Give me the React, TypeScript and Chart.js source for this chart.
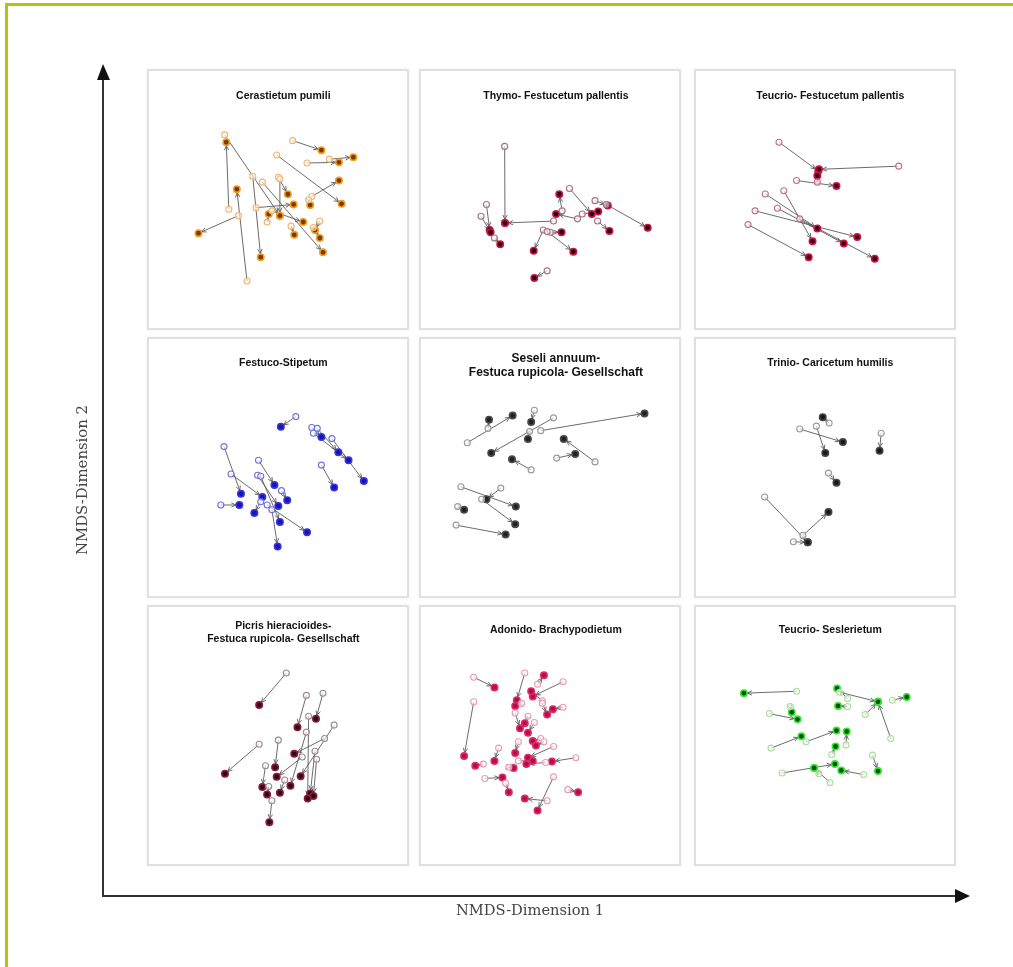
import React, { useEffect, useRef } from "react";
import { Chart, registerables } from "chart.js";

Chart.register(...registerables);

// Titles of the nine panels
const panelTitles: string[][] = [
  ["Cerastietum pumili"],
  ["Thymo- Festucetum pallentis"],
  ["Teucrio- Festucetum pallentis"],
  ["Festuco-Stipetum"],
  ["Seseli annuum-", "Festuca rupicola- Gesellschaft"],
  ["Trinio- Caricetum humilis"],
  ["Picris hieracioides-", "Festuca rupicola- Gesellschaft"],
  ["Adonido- Brachypodietum"],
  ["Teucrio- Seslerietum"],
];

// each row: [x open (first survey), y open, x filled (second survey), y filled]
// units: NMDS position (0..800, y counted downward)
const cerastietumPumili: number[][] = [
  [245, 425, 237, 215],
  [232, 192, 405, 445],
  [302, 650, 270, 362],
  [275, 445, 150, 500],
  [320, 322, 345, 575],
  [445, 210, 535, 240],
  [395, 255, 598, 408],
  [490, 280, 590, 278],
  [560, 268, 635, 262],
  [505, 385, 590, 335],
  [330, 420, 448, 410],
  [400, 325, 430, 378],
  [350, 340, 540, 560],
  [380, 430, 478, 465],
  [405, 330, 405, 445],
  [530, 462, 515, 490],
  [495, 395, 500, 412],
  [440, 478, 450, 505],
  [510, 482, 530, 515],
  [365, 465, 370, 440],
];

const thymoFestucetum: number[][] = [
  [257, 228, 258, 468],
  [410, 462, 258, 468],
  [200, 410, 210, 490],
  [183, 447, 213, 497],
  [225, 515, 243, 535],
  [437, 430, 428, 378],
  [460, 360, 530, 440],
  [485, 455, 418, 440],
  [540, 398, 580, 413],
  [575, 410, 705, 483],
  [548, 462, 585, 493],
  [378, 490, 348, 555],
  [400, 497, 435, 497],
  [390, 495, 472, 558],
  [390, 618, 350, 640],
  [500, 440, 550, 432],
];

const teucrioFestucetum: number[][] = [
  [255, 215, 378, 305],
  [630, 290, 380, 300],
  [310, 335, 435, 352],
  [375, 340, 375, 320],
  [158, 473, 348, 575],
  [180, 430, 500, 512],
  [212, 377, 375, 485],
  [270, 367, 360, 525],
  [250, 422, 458, 532],
  [320, 455, 555, 580],
];

const festucoStipetum: number[][] = [
  [455, 238, 408, 270],
  [505, 272, 535, 302],
  [522, 275, 588, 350],
  [510, 290, 620, 375],
  [568, 307, 668, 440],
  [535, 390, 575, 460],
  [230, 332, 283, 480],
  [338, 375, 388, 452],
  [252, 418, 350, 490],
  [335, 422, 400, 518],
  [345, 425, 405, 568],
  [220, 515, 278, 515],
  [345, 505, 325, 540],
  [365, 515, 490, 600],
  [380, 530, 398, 645],
  [410, 470, 428, 500],
];

const seseliAnnuum: number[][] = [
  [140, 320, 282, 235],
  [410, 242, 215, 352],
  [350, 218, 340, 255],
  [370, 282, 695, 228],
  [335, 285, 330, 308],
  [205, 275, 208, 248],
  [340, 405, 280, 372],
  [540, 380, 442, 308],
  [420, 368, 478, 355],
  [120, 458, 292, 520],
  [245, 462, 200, 497],
  [185, 497, 290, 575],
  [110, 520, 130, 530],
  [105, 578, 260, 607],
];

const trinioCaricetum: number[][] = [
  [412, 258, 392, 240],
  [320, 277, 455, 318],
  [372, 268, 400, 352],
  [575, 290, 570, 345],
  [410, 415, 435, 445],
  [210, 490, 345, 632],
  [330, 610, 410, 537],
  [300, 630, 345, 632],
];

const picrisHieracioides: number[][] = [
  [425, 205, 340, 305],
  [488, 275, 460, 375],
  [540, 268, 518, 348],
  [575, 368, 470, 528],
  [545, 410, 450, 458],
  [488, 390, 438, 558],
  [400, 415, 390, 500],
  [340, 428, 233, 520],
  [515, 450, 500, 582],
  [520, 475, 510, 590],
  [360, 495, 350, 562],
  [475, 468, 395, 530],
  [380, 605, 372, 672],
  [420, 540, 405, 580],
  [370, 560, 365, 585],
  [495, 340, 492, 598],
];

const adonidoBrachypodietum: number[][] = [
  [160, 218, 225, 250],
  [320, 205, 295, 290],
  [440, 232, 345, 278],
  [360, 240, 380, 212],
  [375, 292, 340, 262],
  [160, 295, 130, 465],
  [440, 312, 408, 318],
  [375, 300, 390, 335],
  [330, 340, 320, 362],
  [410, 435, 330, 470],
  [480, 470, 405, 482],
  [238, 440, 225, 480],
  [195, 535, 250, 532],
  [390, 605, 320, 598],
  [410, 530, 360, 635],
  [455, 570, 487, 578],
  [385, 485, 325, 490],
  [300, 420, 290, 455],
  [270, 500, 285, 502],
  [190, 490, 165, 495],
  [260, 550, 270, 578],
  [350, 360, 330, 392],
  [370, 410, 345, 418],
  [380, 420, 355, 432],
  [300, 480, 345, 480],
  [290, 330, 305, 378],
  [310, 300, 290, 308],
];

const teucrioSeslerietum: number[][] = [
  [310, 262, 145, 268],
  [445, 265, 565, 295],
  [470, 285, 437, 253],
  [470, 310, 440, 308],
  [610, 290, 655, 280],
  [525, 335, 565, 295],
  [605, 410, 565, 295],
  [225, 332, 313, 350],
  [290, 310, 295, 328],
  [230, 440, 325, 403],
  [340, 420, 435, 385],
  [465, 430, 467, 388],
  [265, 518, 430, 490],
  [415, 548, 365, 502],
  [520, 523, 450, 510],
  [548, 462, 565, 512],
  [420, 460, 432, 435],
  [380, 520, 365, 502],
];

const panelData: number[][][] = [
  cerastietumPumili,
  thymoFestucetum,
  teucrioFestucetum,
  festucoStipetum,
  seseliAnnuum,
  trinioCaricetum,
  picrisHieracioides,
  adonidoBrachypodietum,
  teucrioSeslerietum,
];

// styles (kept apart from data)
const panelColors = [
  { fill: "#7a3b00", ring: "#f59a20", open: "#f4b46a" },
  { fill: "#2a0008", ring: "#c8144a", open: "#a87080" },
  { fill: "#3a0010", ring: "#d0104a", open: "#c07080" },
  { fill: "#1a14a8", ring: "#3434e0", open: "#7070d8" },
  { fill: "#222222", ring: "#4a4a4a", open: "#9a9a9a" },
  { fill: "#1a1a1a", ring: "#444444", open: "#9a9a9a" },
  { fill: "#2a0a14", ring: "#8a1a3a", open: "#a08890" },
  { fill: "#b0104a", ring: "#e0286a", open: "#e89ab8" },
  { fill: "#0a500a", ring: "#30e830", open: "#a8e098" },
];

const titleSizes = [10.5, 10.5, 10.5, 10.5, 12, 10.5, 10.5, 10.5, 10.5];
const cropX = [145, 417, 692];
const cropY = [68, 335, 602];
const cropW = [265, 266, 265];
const cropH = [264, 265, 267];
const boxX = [147, 419, 694];
const boxY = [69, 337, 605];
const boxW = 262;
const boxH = 261;

const arrowPlugin = {
  id: "nmdsArrows",
  beforeDatasetsDraw(chart: any) {
    const pairs: number[][] = chart.config.options.plugins.nmdsArrows.pairs;
    const xs = chart.scales.x;
    const ys = chart.scales.y;
    const ctx = chart.ctx;
    ctx.save();
    ctx.strokeStyle = "#5a5a5a";
    ctx.fillStyle = "#5a5a5a";
    ctx.lineWidth = 0.9;
    for (const p of pairs) {
      const x0 = xs.getPixelForValue(p[0]);
      const y0 = ys.getPixelForValue(p[1]);
      const x1 = xs.getPixelForValue(p[2]);
      const y1 = ys.getPixelForValue(p[3]);
      const dx = x1 - x0;
      const dy = y1 - y0;
      const len = Math.hypot(dx, dy);
      if (len < 1) continue;
      const ux = dx / len;
      const uy = dy / len;
      const ex = x1 - ux * 3.5;
      const ey = y1 - uy * 3.5;
      ctx.beginPath();
      ctx.moveTo(x0, y0);
      ctx.lineTo(ex, ey);
      ctx.stroke();
      const ah = 5;
      const a = Math.atan2(uy, ux);
      ctx.beginPath();
      ctx.moveTo(ex, ey);
      ctx.lineTo(ex - ah * Math.cos(a - 0.45), ey - ah * Math.sin(a - 0.45));
      ctx.moveTo(ex, ey);
      ctx.lineTo(ex - ah * Math.cos(a + 0.45), ey - ah * Math.sin(a + 0.45));
      ctx.stroke();
    }
    ctx.restore();
  },
};

const titlePlugin = {
  id: "panelTitle",
  afterDraw(chart: any) {
    const o = chart.config.options.plugins.panelTitle;
    const ctx = chart.ctx;
    ctx.save();
    ctx.fillStyle = "#111";
    ctx.textAlign = "center";
    ctx.textBaseline = "middle";
    ctx.font = `bold ${o.size}px "Liberation Sans Narrow", "Liberation Sans", Arial, sans-serif`;
    const lines: string[] = o.lines;
    const y0 = lines.length > 1 ? 24 : 28;
    lines.forEach((t, i) => ctx.fillText(t, chart.width * 0.522, y0 + i * 13.5));
    ctx.restore();
  },
};

function Panel({ idx }: { idx: number }) {
  const ref = useRef<HTMLCanvasElement>(null);
  const col = idx % 3;
  const row = Math.floor(idx / 3);
  const w = cropW[col];
  const h = cropH[row];
  useEffect(() => {
    const pairs = panelData[idx];
    const c = panelColors[idx];
    const chart = new Chart(ref.current as HTMLCanvasElement, {
      type: "scatter",
      data: {
        datasets: [
          {
            label: "Aufnahme alt",
            data: pairs.map((p) => ({ x: p[0], y: p[1] })),
            pointRadius: 3,
            pointBackgroundColor: "rgba(255,255,255,0.6)",
            pointBorderColor: c.open,
            pointBorderWidth: 1.1,
          },
          {
            label: "Aufnahme neu",
            data: pairs.map((p) => ({ x: p[2], y: p[3] })),
            pointRadius: 3.2,
            pointBackgroundColor: c.fill,
            pointBorderColor: c.ring,
            pointBorderWidth: 1.6,
          },
        ],
      },
      options: {
        animation: false,
        responsive: false,
        maintainAspectRatio: false,
        layout: { padding: 0 },
        scales: {
          x: { type: "linear", min: 0, max: w * 3, display: false },
          y: { type: "linear", min: 0, max: h * 3, reverse: true, display: false },
        },
        plugins: {
          legend: { display: false },
          tooltip: { enabled: false },
          title: { display: false },
          nmdsArrows: { pairs },
          panelTitle: { lines: panelTitles[idx], size: titleSizes[idx] },
        } as any,
      },
      plugins: [arrowPlugin, titlePlugin],
    });
    return () => chart.destroy();
  }, [idx]);
  return (
    <canvas
      ref={ref}
      width={w}
      height={h}
      style={{ position: "absolute", left: cropX[col], top: cropY[row], width: w, height: h }}
    />
  );
}

export default function App() {
  const idxs = [0, 1, 2, 3, 4, 5, 6, 7, 8];
  return (
    <div style={{ position: "fixed", left: 0, top: 0, width: 1013, height: 967, background: "#fff", overflow: "hidden" }}>
      {idxs.map((i) => (
        <div
          key={"b" + i}
          style={{
            position: "absolute",
            left: boxX[i % 3],
            top: boxY[Math.floor(i / 3)],
            width: boxW,
            height: boxH,
            border: "2px solid #e0e0e0",
            boxSizing: "border-box",
            boxShadow: "0 0 3px rgba(0,0,0,0.06)",
          }}
        />
      ))}
      {idxs.map((i) => (
        <Panel key={i} idx={i} />
      ))}
      <svg width={1013} height={967} style={{ position: "absolute", left: 0, top: 0, pointerEvents: "none" }}>
        <rect x={5} y={3} width={3} height={964} fill="#b5c412" />
        <rect x={5} y={3} width={1008} height={3} fill="#b5c412" />
        <line x1={103} y1={897} x2={103} y2={78} stroke="#333" strokeWidth={2} />
        <polygon points="103,64 97,80 110,80" fill="#111" />
        <line x1={102} y1={896} x2={957} y2={896} stroke="#333" strokeWidth={2} />
        <polygon points="970,896 955,889 955,903" fill="#111" />
        <text
          x={530}
          y={915}
          textAnchor="middle"
          fontFamily="'DejaVu Serif', serif"
          fontSize={14.5}
          fill="#444"
          textLength={148}
          lengthAdjust="spacingAndGlyphs"
        >
          NMDS-Dimension 1
        </text>
        <text
          x={0}
          y={0}
          transform="translate(87,480) rotate(-90)"
          textAnchor="middle"
          fontFamily="'DejaVu Serif', serif"
          fontSize={14.5}
          fill="#444"
          textLength={150}
          lengthAdjust="spacingAndGlyphs"
        >
          NMDS-Dimension 2
        </text>
      </svg>
    </div>
  );
}
